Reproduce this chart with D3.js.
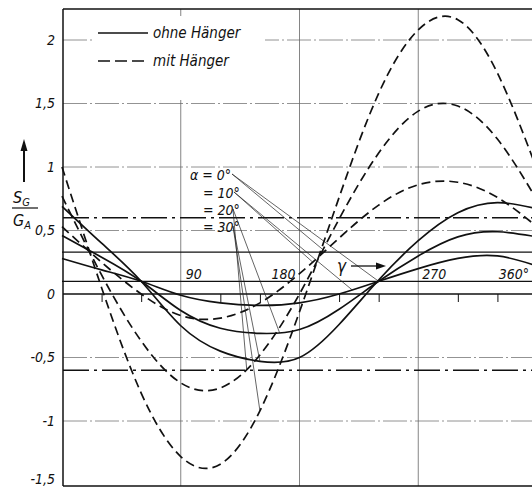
<!DOCTYPE html>
<html>
<head>
<meta charset="utf-8">
<script src="https://cdn.jsdelivr.net/npm/d3@7"></script>
<style>
    body { margin: 0; background: #fff; }
    svg text {
        font-family: "Liberation Sans Narrow", "DejaVu Sans Condensed", sans-serif;
        font-style: italic;
        fill: #111;
    }
</style>
</head>
<body>
<svg id="chart" width="532" height="489"></svg>
<script>
// angle gamma in degrees
const gamma = [0, 30, 60, 90, 120, 150, 180, 210, 240, 270, 300, 330, 360];

// S_G / G_A  ohne Hänger (solid)
const ohne0  = [0.10, 0.10, 0.10, 0.10, 0.10, 0.10, 0.10, 0.10, 0.10, 0.10, 0.10, 0.10, 0.10];
const ohne10 = [0.28, 0.19, 0.10, -0.01, -0.07, -0.09, -0.07, 0.00, 0.10, 0.20, 0.28, 0.30, 0.22];
const ohne20 = [0.46, 0.29, 0.10, -0.13, -0.27, -0.31, -0.28, -0.12, 0.10, 0.30, 0.45, 0.49, 0.45];
const ohne30 = [0.69, 0.40, 0.10, -0.25, -0.45, -0.53, -0.50, -0.24, 0.11, 0.42, 0.64, 0.72, 0.67];

// S_G / G_A  mit Hänger (dashed)
const mit0  = [0.33, 0.33, 0.33, 0.33, 0.33, 0.33, 0.33, 0.33, 0.33, 0.33, 0.33, 0.33, 0.33];
const mit10 = [0.53, 0.25, 0.00, -0.17, -0.19, -0.07, 0.16, 0.44, 0.70, 0.86, 0.88, 0.76, 0.53];
const mit20 = [0.77, 0.15, -0.37, -0.70, -0.74, -0.48, 0.00, 0.59, 1.11, 1.44, 1.48, 1.22, 0.74];
const mit30 = [1.00, 0.05, -0.78, -1.28, -1.34, -0.92, -0.14, 0.76, 1.58, 2.08, 2.16, 1.74, 0.98];

const yTicks = [-1.5, -1, -0.5, 0, 0.5, 1, 1.5, 2];
const gridY = [-1, -0.5, 0.5, 1, 1.5, 2];
const dashDotY = [-0.6, 0.6];
const gridX = [90, 180, 270];
const smallTicks = [30, 60, 120, 150, 210, 240, 300, 330];
const xLabels = ["90", "180", "270", "360°"];
const alphaLabels = ["α = 0°", "= 10°", "= 20°", "= 30°"];
// gamma where each alpha label points onto its curves
const leaderMit = [200, 190, 140, 150];
const leaderOhne = [240, 220, 165, 150];

const svg = d3.select('#chart');

const x = d3.scaleLinear().domain([0, 360]).range([62, 537]);
const y = d3.scaleLinear().domain([-1.5, 2]).range([484.5, 40]);

const fTop = 9, fBottom = 486, fLeft = 63, fRight = 532;

// grid
svg.append('g').selectAll('line')
    .data(gridY).enter().append('line')
    .attr('x1', fLeft).attr('x2', fRight)
    .attr('y1', d => y(d)).attr('y2', d => y(d))
    .attr('stroke', '#777').attr('stroke-width', 0.8)
    .attr('stroke-dasharray', '24,3,2,3');

svg.append('g').selectAll('line')
    .data(gridX).enter().append('line')
    .attr('x1', d => x(d)).attr('x2', d => x(d))
    .attr('y1', fTop).attr('y2', fBottom)
    .attr('stroke', '#666').attr('stroke-width', 0.8);

svg.append('g').selectAll('line')
    .data(dashDotY).enter().append('line')
    .attr('x1', fLeft).attr('x2', fRight)
    .attr('y1', d => y(d)).attr('y2', d => y(d))
    .attr('stroke', '#111').attr('stroke-width', 1.4)
    .attr('stroke-dasharray', '26,5,3,5');

// frame
svg.append('line').attr('x1', fLeft).attr('x2', fRight).attr('y1', fTop).attr('y2', fTop)
    .attr('stroke', '#111').attr('stroke-width', 1.5);
svg.append('line').attr('x1', fLeft).attr('x2', fRight).attr('y1', fBottom).attr('y2', fBottom)
    .attr('stroke', '#111').attr('stroke-width', 1.5);

// y axis
const yAxis = svg.append('g')
    .attr('transform', `translate(${fLeft},0)`)
    .call(d3.axisLeft(y).tickValues(yTicks).tickSize(0).tickPadding(8)
        .tickFormat(d => String(d).replace('.', ',')));
yAxis.select('.domain').remove();
yAxis.append('line').attr('x1', 0).attr('x2', 0).attr('y1', fTop).attr('y2', fBottom)
    .attr('stroke', '#111').attr('stroke-width', 1.5);
yAxis.selectAll('text').attr('font-size', null).attr('font-family', null).style('font-size', '14px');
// lowest label sits a bit higher so it stays inside the picture
yAxis.selectAll('.tick').filter(d => d === -1.5).select('text').attr('y', -5);

// zero line with 30 degree ticks
const xAxis = svg.append('g')
    .attr('transform', `translate(0,${y(0)})`)
    .call(d3.axisBottom(x).tickValues(smallTicks).tickSize(8).tickFormat(''));
xAxis.select('.domain').attr('d', `M${fLeft},0H${fRight}`).attr('stroke', '#111').attr('stroke-width', 1.5);
xAxis.selectAll('.tick line').attr('stroke', '#111').attr('stroke-width', 1);

svg.append('g').selectAll('text')
    .data(xLabels).enter().append('text')
    .attr('x', (d, i) => i === 0 ? x(90) + 5 : i === 1 ? x(180) - 4 : i === 2 ? x(270) + 4 : x(360) - 8)
    .attr('y', 279)
    .attr('text-anchor', (d, i) => (i === 0 || i === 2) ? 'start' : 'end')
    .style('font-size', '14px')
    .text(d => d);

// curves
const line = d3.line()
    .x((d, i) => x(gamma[i]))
    .y(d => y(d))
    .curve(d3.curveNatural);

const ohne = [ohne0, ohne10, ohne20, ohne30];
const mit = [mit0, mit10, mit20, mit30];

const ohnePaths = svg.append('g').selectAll('path')
    .data(ohne).enter().append('path')
    .attr('d', line)
    .attr('fill', 'none')
    .attr('stroke', '#111')
    .attr('stroke-width', (d, i) => i === 0 ? 1.3 : 1.7);

const mitPaths = svg.append('g').selectAll('path')
    .data(mit).enter().append('path')
    .attr('d', line)
    .attr('fill', 'none')
    .attr('stroke', '#111')
    .attr('stroke-width', (d, i) => i === 0 ? 1.3 : 1.7)
    .attr('stroke-dasharray', (d, i) => i === 0 ? null : '9,5');

// find the point of a path at a given gamma
function pointAt(node, g) {
    const tx = x(g);
    let lo = 0, hi = node.getTotalLength();
    for (let k = 0; k < 40; k++) {
        const mid = (lo + hi) / 2;
        if (node.getPointAtLength(mid).x < tx) lo = mid; else hi = mid;
    }
    return node.getPointAtLength(lo);
}

// alpha labels and leader lines
const labelY = [180, 198, 215, 232];
const labelX = [190, 203, 203, 203];
const anchorX = [232, 234, 233, 233];

svg.append('g').selectAll('text')
    .data(alphaLabels).enter().append('text')
    .attr('x', (d, i) => labelX[i])
    .attr('y', (d, i) => labelY[i])
    .style('font-size', '14px')
    .text(d => d);

const leaders = svg.append('g');
alphaLabels.forEach((d, i) => {
    const pm = pointAt(mitPaths.nodes()[i], leaderMit[i]);
    const po = pointAt(ohnePaths.nodes()[i], leaderOhne[i]);
    [pm, po].forEach(p => {
        leaders.append('line')
            .attr('x1', anchorX[i]).attr('y1', labelY[i] - 6)
            .attr('x2', p.x).attr('y2', p.y)
            .attr('stroke', '#222').attr('stroke-width', 0.7);
    });
});

// gamma arrow
svg.append('text').attr('x', 337).attr('y', 272).style('font-size', '17px').text('γ');
svg.append('line').attr('x1', 351).attr('x2', 380).attr('y1', 266).attr('y2', 266)
    .attr('stroke', '#111').attr('stroke-width', 1.3);
svg.append('path').attr('d', 'M386,266 L376,262.5 L376,269.5 Z').attr('fill', '#111');

// legend
const legend = svg.append('g');
legend.append('rect').attr('x', 95).attr('y', 16).attr('width', 170).attr('height', 84).attr('fill', '#fff');
legend.append('line').attr('x1', 98).attr('x2', 148).attr('y1', 33).attr('y2', 33)
    .attr('stroke', '#111').attr('stroke-width', 1.7);
legend.append('line').attr('x1', 98).attr('x2', 148).attr('y1', 61).attr('y2', 61)
    .attr('stroke', '#111').attr('stroke-width', 1.7).attr('stroke-dasharray', '12,5');
legend.append('text').attr('x', 153).attr('y', 38).style('font-size', '15px').text('ohne Hänger');
legend.append('text').attr('x', 153).attr('y', 66).style('font-size', '15px').text('mit Hänger');

// y title: arrow and S_G / G_A
svg.append('line').attr('x1', 24).attr('x2', 24).attr('y1', 182).attr('y2', 148)
    .attr('stroke', '#111').attr('stroke-width', 2);
svg.append('path').attr('d', 'M24,139 L20.5,151 L27.5,151 Z').attr('fill', '#111');
const sT = svg.append('text').attr('x', 13).attr('y', 203).style('font-size', '16px');
sT.append('tspan').text('S');
sT.append('tspan').attr('dy', 3).style('font-size', '11px').text('G');
svg.append('line').attr('x1', 12).attr('x2', 38).attr('y1', 208).attr('y2', 208)
    .attr('stroke', '#111').attr('stroke-width', 1.2);
const gT = svg.append('text').attr('x', 13).attr('y', 226).style('font-size', '16px');
gT.append('tspan').text('G');
gT.append('tspan').attr('dy', 3).style('font-size', '11px').text('A');
</script>
</body>
</html>
